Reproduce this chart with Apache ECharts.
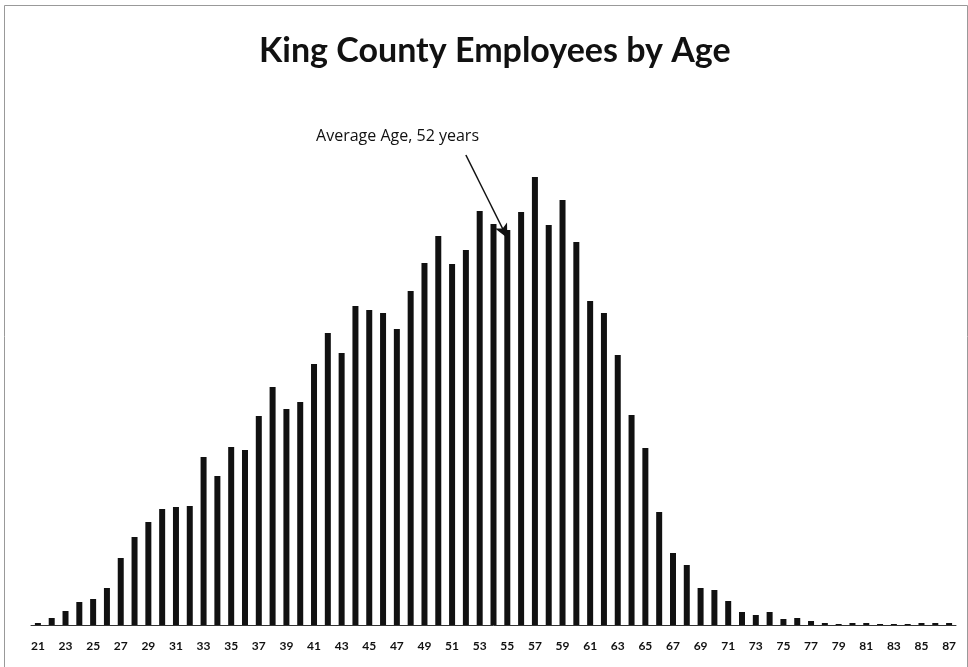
<!DOCTYPE html>
<html>
<head>
<meta charset="utf-8">
<script src="https://cdn.jsdelivr.net/npm/echarts@6/dist/echarts.min.js"></script>
<style>
  html, body { margin: 0; padding: 0; background: #fff; }
  #chart { width: 968px; height: 667px; }
</style>
</head>
<body>
<div id="chart"></div>
<script>
// ages 21..87
var ages = [];
for (var a = 21; a <= 87; a++) ages.push(String(a));

// employees per age
var employees = [
    2, 7, 14, 23, 26, 37, 67, 88, 103, 116,
    118, 119, 168, 149, 178, 175, 209, 238, 216, 223,
    261, 292, 272, 319, 315, 312, 296, 334, 362, 389,
    361, 375, 414, 401, 395, 413, 448, 400, 425, 383,
    324, 312, 270, 210, 177, 113, 72, 60, 37, 35,
    24, 13, 10, 13, 6, 7, 4, 2, 1, 2,
    2, 1, 1, 1, 2, 2, 2
];

var titleText = "King County Employees by Age";
var noteText = "Average Age, 52 years";

var chart = echarts.init(document.getElementById("chart"));

var option = {
    animation: false,
    backgroundColor: "#fff",
    title: {
        text: titleText,
        left: 254,
        top: 29,
        textStyle: {
            fontFamily: "Lato",
            fontWeight: "bold",
            fontSize: 34,
            color: "#111"
        }
    },
    grid: {
        left: 31,
        right: 12,
        top: 125,
        bottom: 42
    },
    xAxis: {
        type: "category",
        data: ages,
        axisLine: {lineStyle: {color: "#333", width: 1}},
        axisTick: {show: false},
        axisLabel: {
            interval: 1,
            margin: 15,
            fontFamily: "Lato",
            fontWeight: "bold",
            fontSize: 12,
            color: "#111"
        }
    },
    yAxis: {
        type: "value",
        min: 0,
        max: 500,
        show: false,
        splitLine: {show: false}
    },
    graphic: [
        {
            type: "rect",
            left: 2,
            top: 3,
            shape: {width: 963, height: 662},
            style: {fill: "none", stroke: "#999", lineWidth: 1}
        },
        {
            type: "text",
            right: 968 - 479,
            top: 128,
            style: {
                text: noteText,
                font: "16px 'Open Sans'",
                fill: "#111"
            }
        }
    ],
    series: [
        {
            type: "bar",
            data: employees,
            barWidth: 6,
            itemStyle: {color: "#111"},
            markLine: {
                silent: true,
                symbol: ["none", "arrow"],
                symbolSize: [10, 14],
                label: {show: false},
                lineStyle: {color: "#111", width: 1.5, type: "solid"},
                data: [
                    [
                        {coord: ["52", 470]},
                        {coord: ["55", 387]}
                    ]
                ]
            }
        }
    ]
};

chart.setOption(option);
</script>
</body>
</html>
